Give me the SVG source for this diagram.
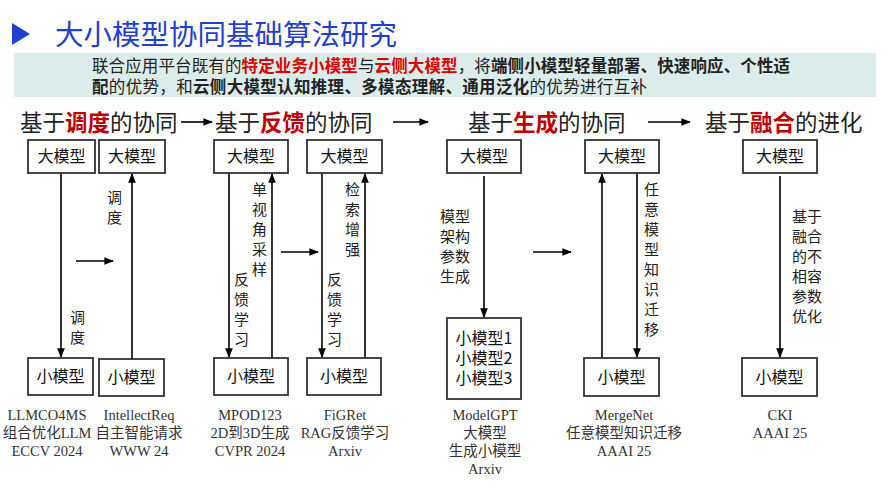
<svg xmlns="http://www.w3.org/2000/svg" width="889" height="500" viewBox="0 0 889 500">
<defs>
<marker id="ah" viewBox="0 0 10 10" refX="9" refY="5" markerWidth="6" markerHeight="6" orient="auto"><path d="M0,1 L10,5 L0,9 z" fill="#000"/></marker>
<style>
.sans{font-family:"Noto Sans CJK SC","Liberation Sans",sans-serif}
.box{fill:#fff;stroke:#333;stroke-width:1.8}
.bt{font-family:"Noto Sans CJK SC",sans-serif;font-size:16px;text-anchor:middle;fill:#111}
.ln{stroke:#000;stroke-width:1.6;fill:none;marker-end:url(#ah)}
.lbl{font-family:"Noto Sans CJK SC",sans-serif;font-size:15px;fill:#222}
.cit{font-family:"Liberation Serif","Noto Sans CJK SC",serif;font-size:14.5px;fill:#333;text-anchor:middle}
.hd{font-family:"Noto Sans CJK SC",sans-serif;font-size:22.5px;fill:#222}
.red{fill:#c00000;font-weight:bold}
</style>
</defs>
<rect width="889" height="500" fill="#fff"/>
<g id="title">
<path d="M12,23 L30,34 L12,45 z" fill="#1f3fd0"/>
<text x="55" y="45" class="sans" font-size="28.5" fill="#1f3fd0">大小模型协同基础算法研究</text>
</g>
<g id="banner">
<rect x="14" y="53" width="862" height="44" fill="#dcecea"/>
<text x="92" y="72" class="sans" font-size="16.5" fill="#222" textLength="698">联合应用平台既有的<tspan fill="#e00000" font-weight="bold">特定业务小模型</tspan>与<tspan fill="#e00000" font-weight="bold">云侧大模型</tspan>，将<tspan font-weight="bold">端侧小模型轻量部署、快速响应、个性适</tspan></text>
<text x="92" y="93" class="sans" font-size="16.5" fill="#222" textLength="555"><tspan font-weight="bold">配</tspan>的优势，和<tspan font-weight="bold">云侧大模型认知推理、多模态理解、通用泛化</tspan>的优势进行互补</text>
</g>
<g id="headers">
<text x="20" y="131" class="hd">基于<tspan class="red">调度</tspan>的协同</text>
<text x="215" y="131" class="hd">基于<tspan class="red">反馈</tspan>的协同</text>
<text x="468" y="131" class="hd">基于<tspan class="red">生成</tspan>的协同</text>
<text x="705" y="131" class="hd">基于<tspan class="red">融合</tspan>的进化</text>
</g>
<g id="connectors">
<line x1="181" y1="122" x2="212" y2="122" class="ln"/>
<line x1="393" y1="122" x2="428" y2="122" class="ln"/>
<line x1="648" y1="122" x2="690" y2="122" class="ln"/>
<line x1="61" y1="173" x2="61" y2="357" class="ln"/>
<line x1="132" y1="359" x2="132" y2="174" class="ln"/>
<line x1="76" y1="261" x2="113" y2="261" class="ln"/>
<line x1="229" y1="173" x2="229" y2="357" class="ln"/>
<line x1="272" y1="358" x2="272" y2="174" class="ln"/>
<line x1="281" y1="252" x2="318" y2="252" class="ln"/>
<line x1="322" y1="173" x2="322" y2="357" class="ln"/>
<line x1="365" y1="358" x2="365" y2="174" class="ln"/>
<line x1="484" y1="176" x2="484" y2="317" class="ln"/>
<line x1="533" y1="252" x2="571" y2="252" class="ln"/>
<line x1="602" y1="358" x2="602" y2="174" class="ln"/>
<line x1="637" y1="173" x2="637" y2="357" class="ln"/>
<line x1="780" y1="176" x2="780" y2="357" class="ln"/>
</g>
<g id="labels">
<text class="lbl"><tspan x="70" y="323">调</tspan><tspan x="70" y="343">度</tspan></text>
<text class="lbl"><tspan x="107" y="203">调</tspan><tspan x="107" y="223">度</tspan></text>
<text class="lbl"><tspan x="252" y="195">单</tspan><tspan x="252" y="215">视</tspan><tspan x="252" y="235">角</tspan><tspan x="252" y="255">采</tspan><tspan x="252" y="275">样</tspan></text>
<text class="lbl"><tspan x="234" y="285">反</tspan><tspan x="234" y="305">馈</tspan><tspan x="234" y="325">学</tspan><tspan x="234" y="345">习</tspan></text>
<text class="lbl"><tspan x="345" y="195">检</tspan><tspan x="345" y="215">索</tspan><tspan x="345" y="235">增</tspan><tspan x="345" y="255">强</tspan></text>
<text class="lbl"><tspan x="327" y="285">反</tspan><tspan x="327" y="305">馈</tspan><tspan x="327" y="325">学</tspan><tspan x="327" y="345">习</tspan></text>
<text class="lbl"><tspan x="440" y="222">模型</tspan><tspan x="440" y="242">架构</tspan><tspan x="440" y="262">参数</tspan><tspan x="440" y="282">生成</tspan></text>
<text class="lbl"><tspan x="644" y="195">任</tspan><tspan x="644" y="215">意</tspan><tspan x="644" y="235">模</tspan><tspan x="644" y="255">型</tspan><tspan x="644" y="275">知</tspan><tspan x="644" y="295">识</tspan><tspan x="644" y="315">迁</tspan><tspan x="644" y="335">移</tspan></text>
<text class="lbl"><tspan x="792" y="222">基于</tspan><tspan x="792" y="242">融合</tspan><tspan x="792" y="262">的不</tspan><tspan x="792" y="282">相容</tspan><tspan x="792" y="302">参数</tspan><tspan x="792" y="322">优化</tspan></text>
</g>
<g id="n1"><rect class="box" x="28" y="140" width="67" height="33"/><text class="bt" x="61.5" y="162">大模型</text></g>
<g id="n2"><rect class="box" x="99" y="140" width="66" height="33"/><text class="bt" x="132" y="162">大模型</text></g>
<g id="n3"><rect class="box" x="214" y="140" width="74" height="33"/><text class="bt" x="251" y="162">大模型</text></g>
<g id="n4"><rect class="box" x="307" y="140" width="75" height="33"/><text class="bt" x="344.5" y="162">大模型</text></g>
<g id="n5"><rect class="box" x="447" y="140" width="74" height="33"/><text class="bt" x="484" y="162">大模型</text></g>
<g id="n6"><rect class="box" x="585" y="140" width="74" height="33"/><text class="bt" x="622" y="162">大模型</text></g>
<g id="n7"><rect class="box" x="743" y="140" width="74" height="33"/><text class="bt" x="780" y="162">大模型</text></g>
<g id="s1"><rect class="box" x="28" y="358" width="65" height="37"/><text class="bt" x="60.5" y="382">小模型</text></g>
<g id="s2"><rect class="box" x="99" y="359" width="65" height="37"/><text class="bt" x="131.5" y="383">小模型</text></g>
<g id="s3"><rect class="box" x="214" y="358" width="74" height="37"/><text class="bt" x="251" y="382">小模型</text></g>
<g id="s4"><rect class="box" x="307" y="358" width="74" height="37"/><text class="bt" x="344" y="382">小模型</text></g>
<g id="s5"><rect class="box" x="447" y="318" width="74" height="81"/><text class="bt" x="484" y="344" font-size="14.5">小模型1</text><text class="bt" x="484" y="364" font-size="14.5">小模型2</text><text class="bt" x="484" y="384" font-size="14.5">小模型3</text></g>
<g id="s6"><rect class="box" x="584" y="358" width="75" height="38"/><text class="bt" x="621.5" y="383">小模型</text></g>
<g id="s7"><rect class="box" x="742" y="358" width="75" height="38"/><text class="bt" x="779.5" y="383">小模型</text></g>
<g id="citations">
<text class="cit"><tspan x="47" y="420">LLMCO4MS</tspan><tspan x="47" y="438">组合优化LLM</tspan><tspan x="47" y="456">ECCV 2024</tspan></text>
<text class="cit"><tspan x="139" y="420">IntellectReq</tspan><tspan x="139" y="438">自主智能请求</tspan><tspan x="139" y="456">WWW 24</tspan></text>
<text class="cit"><tspan x="250" y="420">MPOD123</tspan><tspan x="250" y="438">2D到3D生成</tspan><tspan x="250" y="456">CVPR 2024</tspan></text>
<text class="cit"><tspan x="345" y="420">FiGRet</tspan><tspan x="345" y="438">RAG反馈学习</tspan><tspan x="345" y="456">Arxiv</tspan></text>
<text class="cit"><tspan x="485" y="420">ModelGPT</tspan><tspan x="485" y="438">大模型</tspan><tspan x="485" y="456">生成小模型</tspan><tspan x="485" y="474">Arxiv</tspan></text>
<text class="cit"><tspan x="624" y="420">MergeNet</tspan><tspan x="624" y="438">任意模型知识迁移</tspan><tspan x="624" y="456">AAAI 25</tspan></text>
<text class="cit"><tspan x="780" y="420">CKI</tspan><tspan x="780" y="438">AAAI 25</tspan></text>
</g>
</svg>
